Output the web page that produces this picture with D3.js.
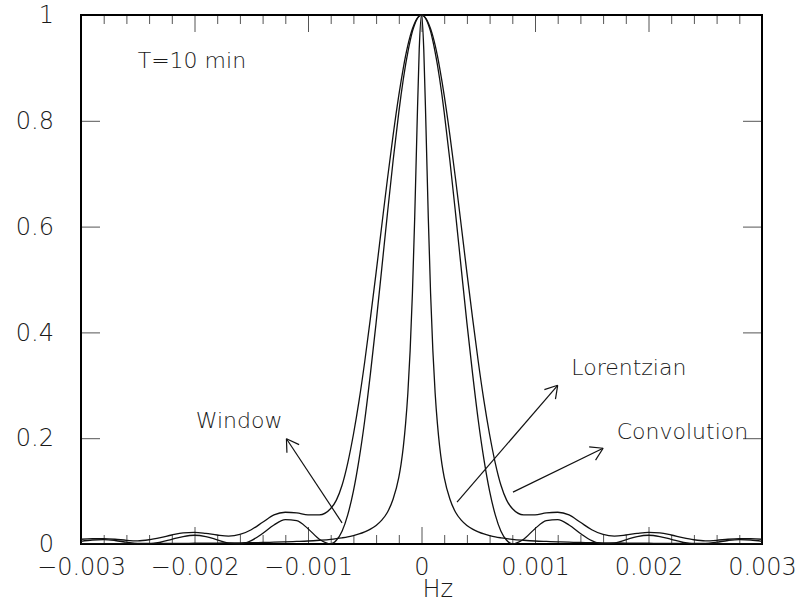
<!DOCTYPE html>
<html>
<head>
<meta charset="utf-8">
<script src="https://cdn.jsdelivr.net/npm/d3@7"></script>
<style>
  html, body { margin: 0; padding: 0; background: #fff; }
  svg { display: block; }
  text { font-family: "DejaVu Sans", "Liberation Sans", sans-serif; font-weight: 200; fill: #1a1a1a; }
</style>
</head>
<body>
<svg id="chart" width="804" height="605"></svg>
<script>
// ---- data ----
const freqs = [
  -0.003,-0.0029,-0.0028,-0.0027,-0.0026,-0.0025,-0.0024,-0.0023,-0.0022,-0.0021,
  -0.002,-0.0019,-0.0018,-0.0017,-0.0016,-0.0015,-0.0014,-0.0013,-0.0012,-0.0011,
  -0.001,-0.0009,-0.0008,-0.00075,-0.0007,-0.00065,-0.0006,-0.00055,-0.0005,-0.00045,
  -0.0004,-0.00035,-0.0003,-0.00025,-0.0002,-0.00018,-0.00016,-0.00014,-0.00012,-0.0001,
  -0.00008,-0.00006,-0.00004,-0.00002,
  0,
  0.00002,0.00004,0.00006,0.00008,0.0001,0.00012,0.00014,0.00016,0.00018,0.0002,
  0.00025,0.0003,0.00035,0.0004,0.00045,0.0005,0.00055,0.0006,0.00065,0.0007,
  0.00075,0.0008,0.0009,0.001,0.0011,0.0012,0.0013,0.0014,0.0015,0.0016,
  0.0017,0.0018,0.0019,0.002,0.0021,0.0022,0.0023,0.0024,0.0025,0.0026,
  0.0027,0.0028,0.0029,0.003
];

const windowValues = [
  0.0051,0.0076,0.0083,0.0066,0.0034,0.0006,0.0003,0.0033,0.0088,0.014,
  0.0165,0.014,0.008,0.0018,0.0003,0.0065,0.020,0.036,0.046,0.044,
  0.029,0.009,0.0003,0.007,0.024,0.055,0.100,0.160,0.234,0.322,
  0.418,0.521,0.625,0.725,0.816,0.849,0.879,0.906,0.930,0.951,
  0.969,0.982,0.992,0.998,
  1,
  0.998,0.992,0.982,0.969,0.951,0.930,0.906,0.879,0.849,0.816,
  0.725,0.625,0.521,0.418,0.322,0.234,0.160,0.100,0.055,0.024,
  0.007,0.0003,0.009,0.029,0.044,0.046,0.036,0.020,0.0065,0.0003,
  0.0018,0.008,0.014,0.0165,0.014,0.0088,0.0033,0.0003,0.0006,0.0034,
  0.0066,0.0083,0.0076,0.0051
];

const lorentzValues = [
  0.0006,0.0007,0.0007,0.0008,0.0009,0.0009,0.0010,0.0011,0.0012,0.0013,
  0.0014,0.0016,0.0018,0.0020,0.0023,0.0026,0.0029,0.0034,0.0040,0.0048,
  0.0057,0.0071,0.0089,0.0102,0.0117,0.0135,0.016,0.019,0.023,0.028,
  0.035,0.045,0.060,0.085,0.126,0.151,0.184,0.228,0.286,0.366,
  0.474,0.616,0.783,0.935,
  1,
  0.935,0.783,0.616,0.474,0.366,0.286,0.228,0.184,0.151,0.126,
  0.085,0.060,0.045,0.035,0.028,0.023,0.019,0.016,0.0135,0.0117,
  0.0102,0.0089,0.0071,0.0057,0.0048,0.0040,0.0034,0.0029,0.0026,0.0023,
  0.0020,0.0018,0.0016,0.0014,0.0013,0.0012,0.0011,0.0010,0.0009,0.0009,
  0.0008,0.0007,0.0007,0.0006
];

const convolutionValues = [
  0.009,0.010,0.010,0.009,0.007,0.006,0.008,0.012,0.017,0.021,
  0.022,0.020,0.017,0.015,0.018,0.027,0.041,0.055,0.060,0.059,
  0.055,0.055,0.067,0.083,0.111,0.153,0.207,0.271,0.345,0.427,
  0.513,0.602,0.690,0.773,0.848,0.875,0.900,0.923,0.943,0.960,
  0.974,0.985,0.993,0.998,
  1,
  0.998,0.993,0.985,0.974,0.960,0.943,0.923,0.900,0.875,0.848,
  0.773,0.690,0.602,0.513,0.427,0.345,0.271,0.207,0.153,0.111,
  0.083,0.067,0.055,0.055,0.059,0.060,0.055,0.041,0.027,0.018,
  0.015,0.017,0.020,0.022,0.021,0.017,0.012,0.008,0.006,0.007,
  0.009,0.010,0.010,0.009
];

const xTickValues = [-0.003,-0.002,-0.001,0,0.001,0.002,0.003];
const xTickLabels = ["\u22120.003","\u22120.002","\u22120.001","0","0.001","0.002","0.003"];
const yTickValues = [0,0.2,0.4,0.6,0.8,1];
const yTickLabels = ["0","0.2","0.4","0.6","0.8","1"];
const xAxisTitle = "Hz";

// annotation texts (anchor in data units) and arrows (from -> tip, data units)
const noteTexts = ["T=10 min","Window","Lorentzian","Convolution"];
const noteX = [-0.0025,-0.00199,0.00132,0.00172];
const noteY = [0.90,0.219,0.320,0.199];
const arrowFromX = [-0.0007,0.000313,0.000806];
const arrowFromY = [0.040,0.079,0.098];
const arrowToX = [-0.00119,0.00120,0.00160];
const arrowToY = [0.199,0.300,0.181];

// ---- drawing ----
const svg = d3.select("#chart");
const mLeft = 81, mRight = 762, mTop = 15, mBottom = 544;
const x = d3.scaleLinear().domain([-0.003,0.003]).range([mLeft,mRight]);
const y = d3.scaleLinear().domain([0,1]).range([mBottom,mTop]);

const xMinor = d3.range(-30,31,2).filter(i => i % 10 !== 0).map(i => i/10000);

function styleAxis(g, showText) {
  g.select(".domain").remove();
  g.selectAll(".tick line").attr("stroke","#555").attr("stroke-width",1);
  if (!showText) g.selectAll(".tick text").remove();
  g.selectAll(".tick text").attr("fill","#1a1a1a").style("font-size","24px")
    .style("font-family","'DejaVu Sans', sans-serif").style("font-weight","200");
}

// bottom major with labels
svg.append("g").attr("transform",`translate(0,${mBottom})`)
  .call(d3.axisBottom(x).tickValues(xTickValues).tickSizeInner(-17).tickSizeOuter(0)
    .tickPadding(14).tickFormat((d,i) => xTickLabels[i]))
  .call(g => styleAxis(g,true));
// bottom minor
svg.append("g").attr("transform",`translate(0,${mBottom})`)
  .call(d3.axisBottom(x).tickValues(xMinor).tickSizeInner(-9).tickSizeOuter(0))
  .call(g => styleAxis(g,false));
// top major / minor
svg.append("g").attr("transform",`translate(0,${mTop})`)
  .call(d3.axisTop(x).tickValues(xTickValues).tickSizeInner(-17).tickSizeOuter(0))
  .call(g => styleAxis(g,false));
svg.append("g").attr("transform",`translate(0,${mTop})`)
  .call(d3.axisTop(x).tickValues(xMinor).tickSizeInner(-9).tickSizeOuter(0))
  .call(g => styleAxis(g,false));
// left with labels
svg.append("g").attr("transform",`translate(${mLeft},0)`)
  .call(d3.axisLeft(y).tickValues(yTickValues).tickSizeInner(-19).tickSizeOuter(0)
    .tickPadding(27).tickFormat((d,i) => yTickLabels[i]))
  .call(g => styleAxis(g,true));
// right
svg.append("g").attr("transform",`translate(${mRight},0)`)
  .call(d3.axisRight(y).tickValues(yTickValues).tickSizeInner(-19).tickSizeOuter(0))
  .call(g => styleAxis(g,false));

// frame
svg.append("rect").attr("x",mLeft).attr("y",mTop).attr("width",mRight-mLeft).attr("height",mBottom-mTop)
  .attr("fill","none").attr("stroke","#000").attr("stroke-width",2);

// curves
const line = d3.line().x(d => x(d[0])).y(d => y(d[1])).curve(d3.curveMonotoneX);
[windowValues, lorentzValues, convolutionValues].forEach(vals => {
  svg.append("path")
    .datum(freqs.map((f,i) => [f, vals[i]]))
    .attr("d", line)
    .attr("fill","none").attr("stroke","#111").attr("stroke-width",1.3);
});

// axis title
svg.append("text").attr("x", x(0)+1).attr("y", 597).text(xAxisTitle)
  .style("font-size","24px");

// notes
noteTexts.forEach((t,i) => {
  svg.append("text").attr("x", x(noteX[i])).attr("y", y(noteY[i])).text(t)
    .style("font-size","22px");
});

// arrows
arrowFromX.forEach((fx,i) => {
  const x0 = x(fx), y0 = y(arrowFromY[i]), x1 = x(arrowToX[i]), y1 = y(arrowToY[i]);
  const ang = Math.atan2(y0 - y1, x0 - x1);
  const len = 14, spread = Math.PI/6 * 1.05;
  const g = svg.append("g").attr("stroke","#111").attr("stroke-width",1.2).attr("fill","none");
  g.append("line").attr("x1",x0).attr("y1",y0).attr("x2",x1).attr("y2",y1);
  [ang - spread, ang + spread].forEach(a => {
    g.append("line").attr("x1",x1).attr("y1",y1)
      .attr("x2", x1 + len*Math.cos(a)).attr("y2", y1 + len*Math.sin(a));
  });
});
</script>
</body>
</html>
